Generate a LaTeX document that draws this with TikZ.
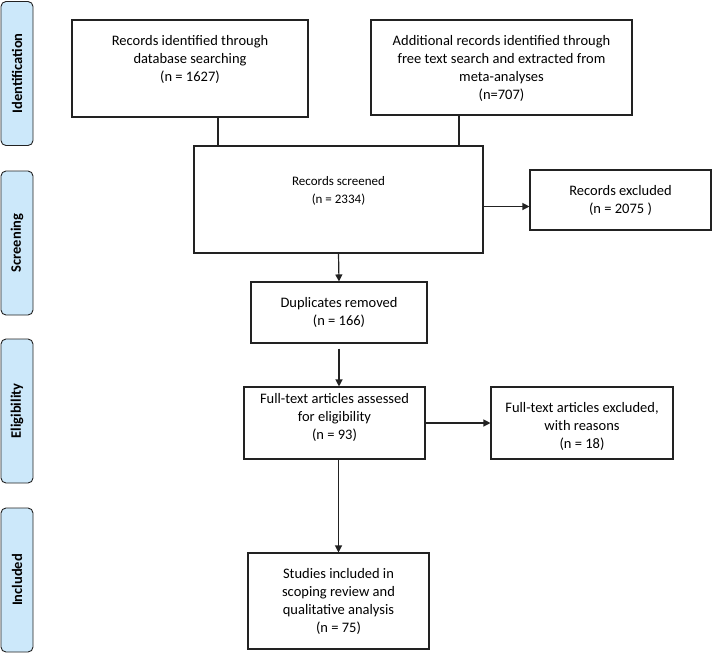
\documentclass[tikz,border=0pt]{standalone}
\usepackage{fontspec}
\setmainfont{Carlito}
\usetikzlibrary{arrows.meta,calc}
\definecolor{sidefill}{HTML}{CCE8FA}
\definecolor{edge}{HTML}{222222}
\begin{document}
\begin{tikzpicture}[x=1pt,y=-1pt,
 box/.style={draw=edge,line width=1.1pt,inner sep=0pt,align=center,font=\fontsize{14.5}{18}\selectfont},
 txt/.style={align=center,inner sep=0pt,anchor=north,font=\fontsize{14.5}{18}\selectfont},
 side/.style={draw=edge,fill=sidefill,rounded corners=5pt,line width=0.9pt,rotate=90,minimum width=144pt,minimum height=32pt,inner sep=0pt,font=\bfseries\fontsize{14.5}{16}\selectfont},
 arr/.style={line width=1.2pt,draw=edge,-{Triangle[length=7pt,width=7pt]}},
 ln/.style={line width=1.2pt,draw=edge}]
\useasboundingbox (0,0) rectangle (714,654);

% side labels
\node[side] (s1) at (17,73.5) {Identification};
\node[side] (s2) at (17,243) {Screening};
\node[side] (s3) at (17,411) {Eligibility};
\node[side] (s4) at (17,580) {Included};

% boxes
\node[box,minimum width=236pt,minimum height=97pt] (b1) at (190,68.5) {};
\node[txt] (t1) at ([yshift=-16pt]b1.north) {Records identified through\\database searching\\(n = 1627)};

\node[box,minimum width=261pt,minimum height=95pt] (b2) at (501.5,67.5) {};
\node[txt] (t2) at ([yshift=-16pt]b2.north) {Additional records identified through\\free text search and extracted from\\meta-analyses\\(n=707)};

\node[box,minimum width=289pt,minimum height=107pt] (scr) at (338.5,199.5) {};
\node[txt,font=\fontsize{13}{18}\selectfont] (tscr) at ([yshift=-31pt]scr.north) {Records screened\\(n = 2334)};

\node[box,minimum width=181pt,minimum height=60pt] (ex1) at (620.5,200) {Records excluded\\(n = 2075 )};

\node[box,minimum width=176pt,minimum height=61pt] (dup) at (339,312.5) {Duplicates removed\\(n = 166)};

\node[box,minimum width=181pt,minimum height=72pt] (ass) at (334.5,423) {};
\node[txt] (tass) at ([yshift=-7pt]ass.north) {Full-text articles assessed\\for eligibility\\(n = 93)};

\node[box,minimum width=182pt,minimum height=72pt] (ex2) at (582,423) {};
\node[txt] (tex2) at ([yshift=-16pt]ex2.north) {Full-text articles excluded,\\with reasons\\(n = 18)};

\node[box,minimum width=181pt,minimum height=96pt] (inc) at (338.5,601) {Studies included in\\scoping review and\\qualitative analysis\\(n = 75)};

% connectors
\coordinate (c1) at ([xshift=28pt]b1.south);
\coordinate (c2) at ([xshift=-42.5pt]b2.south);
\draw[ln] (c1) -- (c1 |- scr.north);
\draw[ln] (c2) -- (c2 |- scr.north);
\coordinate (c3) at ([yshift=-7pt]scr.east);
\draw[arr] (c3) -- (c3 -| ex1.west);
\draw[arr] (scr.south) -- (dup.north);
\draw[arr,shorten <=5pt] (dup.south) -- (dup.south |- ass.north);
\draw[arr] (ass.east) -- (ex2.west);
\draw[arr] (inc.north |- ass.south) -- (inc.north);
\end{tikzpicture}
\end{document}
